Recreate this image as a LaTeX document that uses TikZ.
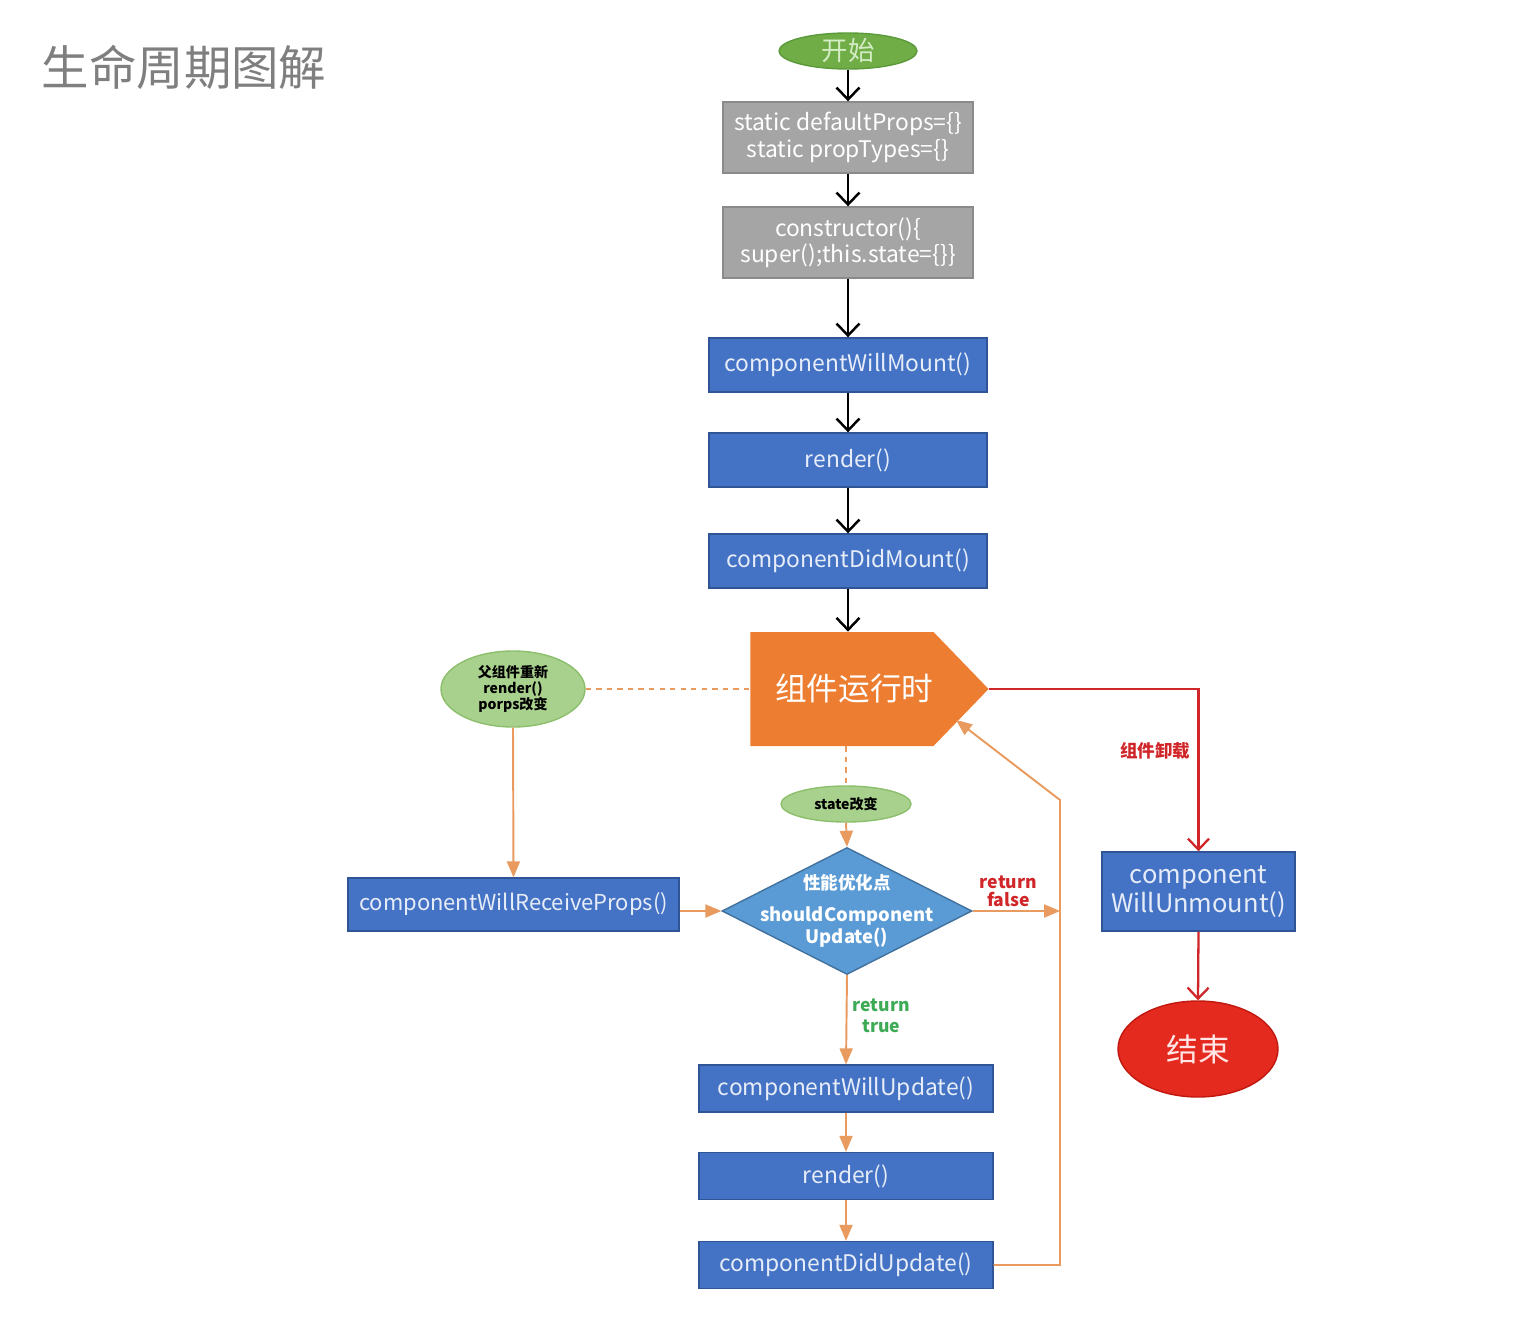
\documentclass[tikz,border=0pt]{standalone}
\usepackage{fontspec}
\setmainfont{Noto Sans CJK SC}
\usetikzlibrary{shapes,arrows,arrows.meta}
\usetikzlibrary{positioning}
\definecolor{boxblue}{HTML}{4472C4}
\definecolor{blueline}{HTML}{2F5597}
\definecolor{boxtext}{HTML}{E6EDF8}
\definecolor{boxgray}{HTML}{A5A5A5}
\definecolor{grayline}{HTML}{8A8A8A}
\definecolor{startgreen}{HTML}{70AD47}
\definecolor{startline}{HTML}{5A9A3A}
\definecolor{starttext}{HTML}{D4ECC4}
\definecolor{softgreen}{HTML}{A9D18E}
\definecolor{softline}{HTML}{8CBF6C}
\definecolor{runorange}{HTML}{ED7D31}
\definecolor{orangeline}{HTML}{E99A5E}
\definecolor{diamondblue}{HTML}{5B9BD5}
\definecolor{diamondline}{HTML}{41719C}
\definecolor{endred}{HTML}{E42A1E}
\definecolor{endline}{HTML}{C0180F}
\definecolor{redline}{HTML}{D0262A}
\definecolor{truegreen}{HTML}{3DAA55}
\definecolor{titlegray}{HTML}{7F7F7F}
\tikzstyle{block} = [rectangle, draw=blueline, fill=boxblue, text=boxtext,
    minimum width=5.56cm, minimum height=1.08cm, line width=0.8pt,
    font=\fontsize{13}{15}\selectfont]
\tikzstyle{updblock} = [block, minimum width=5.88cm, minimum height=0.94cm]
\tikzstyle{grayblock} = [rectangle, draw=grayline, fill=boxgray, text=white,
    minimum width=5cm, minimum height=1.42cm, line width=0.8pt, align=center,
    font=\fontsize{13}{15}\selectfont]
\tikzstyle{startend} = [draw=startline, ellipse, fill=startgreen, text=starttext,
    minimum width=2.76cm, minimum height=0.72cm, inner sep=0pt, line width=0.8pt,
    font=\fontsize{15}{16}\selectfont]
\tikzstyle{cloud} = [draw=softline, ellipse, fill=softgreen, inner sep=0pt,
    line width=0.8pt, align=center, font=\bfseries\fontsize{8}{9}\selectfont]
\tikzstyle{decision} = [draw=diamondline, diamond, fill=diamondblue, inner sep=0pt,
    minimum width=5cm, minimum height=2.54cm, line width=0.8pt]
\tikzstyle{line} = [draw, -{Straight Barb[length=2.4mm,width=4.6mm]}, line width=1.4pt]
\tikzstyle{rline} = [draw=redline, -{Straight Barb[length=2.2mm,width=4.2mm]}, line width=1.3pt]
\tikzstyle{oline} = [draw=orangeline, -triangle 45, line width=1.1pt]
\tikzstyle{dline} = [draw=orangeline, dashed, line width=1pt]
\begin{document}
\begin{tikzpicture}[node distance = 2cm, auto]
  \useasboundingbox (0,0) rectangle (30.48,-26.36);
  % Place nodes
  \node [text=titlegray, font=\fontsize{27}{30}\selectfont] (title) at (3.68,-1.34) {生命周期图解};

  \node [startend] (start) at (16.96,-1.02) {开始};
  \node [grayblock, below of=start, node distance = 1.73cm] (props) {static defaultProps=\{\}\\static propTypes=\{\}};
  \node [grayblock, below of=props, node distance = 2.1cm] (ctor) {constructor()\{\\super();this.state=\{\}\}};
  \node [block, below of=ctor, node distance = 2.45cm] (willmount) {componentWillMount()};
  \node [block, below of=willmount, node distance = 1.9cm] (render1) {render()};
  \node [block, below of=render1, node distance = 2.02cm] (didmount) {componentDidMount()};

  \node [signal, signal to=east, signal pointer angle=92, fill=runorange, text=white,
    minimum width=4.7cm, minimum height=2.28cm, inner sep=0pt, anchor=west,
    font=\fontsize{18}{20}\selectfont] (running) at (15.0,-13.78) {\hspace*{0.5cm}组件运行时};

  \node [cloud, minimum width=2.88cm, minimum height=1.52cm] (parent) at (10.26,-13.78) {父组件重新\\render()\\porps改变};
  \node [cloud, minimum width=2.6cm, minimum height=0.72cm] (state) at (16.92,-16.08) {state改变};

  \node [block, minimum width=6.62cm, minimum height=1.06cm, font=\fontsize{12.5}{14}\selectfont] (receive) at (10.27,-18.09) {componentWillReceiveProps()};
  \node [decision, label={[text=white, align=center, font=\bfseries\fontsize{10.5}{12.5}\selectfont]center:{\fontsize{10}{12}\selectfont 性能优化点}\\[6pt]shouldComponent\\Update()}] (check) at (16.94,-18.22) {};

  \node [updblock] (willupdate) at (16.92,-21.77) {componentWillUpdate()};
  \node [updblock, below of=willupdate, node distance = 1.75cm] (render2) {render()};
  \node [updblock, below of=render2, node distance = 1.78cm] (didupdate) {componentDidUpdate()};

  \node [block, minimum width=3.86cm, minimum height=1.58cm, align=center,
    font=\fontsize{14.5}{16.5}\selectfont] (unmount) at (23.97,-17.83) {component\\WillUnmount()};
  \node [startend, draw=endline, fill=endred, text=white!90!red, minimum width=3.2cm,
    minimum height=1.92cm, font=\fontsize{18}{20}\selectfont] (end) at (23.96,-20.98) {结束};

  \coordinate (loopbot) at (21.2,-25.30);
  \coordinate (loopturn) at (21.2,-16.0);
  \coordinate (rettip) at (19.12,-14.40);

  % paths
  \path [line] (start) -- (props);
  \path [line] (props) -- (ctor);
  \path [line] (ctor) -- (willmount);
  \path [line] (willmount) -- (render1);
  \path [line] (render1) -- (didmount);
  \path [line] (didmount.south) -- (didmount.south |- running.north);

  \path [dline] (parent.east) -- (running.west);
  \path [dline] (state.north |- running.south) -- (state.north);
  \path [oline] (parent.south) -- (receive.north);
  \path [oline] (receive.east |- check.west) -- (check.west);
  \path [oline] (state.south) -- (check.north);
  \path [oline] (check.east) -- node [above, pos=0.41, text=redline, align=center, inner sep=2pt,
    font=\bfseries\fontsize{10}{10}\selectfont] {return\\false} (check.east -| loopturn);
  \path [oline] (check.south) -- node [right, pos=0.46, text=truegreen, align=center, inner sep=3pt,
    font=\bfseries\fontsize{10}{12}\selectfont] {return\\true} (willupdate.north);
  \path [oline] (willupdate) -- (render2);
  \path [oline] (render2) -- (didupdate);
  \path [oline] (didupdate.east) -- (loopbot) -- (loopturn) -- (rettip);

  \path [rline] (running.east) -| node [left, pos=0.69, text=redline, inner sep=4pt,
    font=\bfseries\fontsize{10}{12}\selectfont] {组件卸载} (unmount.north);
  \path [rline] (unmount.south) -- (end.north);
\end{tikzpicture}
\end{document}
